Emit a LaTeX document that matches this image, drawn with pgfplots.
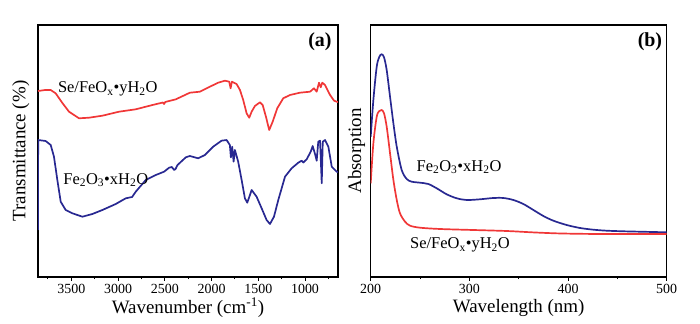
\documentclass[border=0pt]{standalone}
\usepackage{fontspec}
\setmainfont{Liberation Serif}
\usepackage{pgfplots}
\pgfplotsset{compat=1.18}
\definecolor{cred}{RGB}{240,55,55}
\definecolor{cblue}{RGB}{40,40,145}
\pgfplotsset{
  myax/.style={
    scale only axis, height=252bp, ymin=0, ymax=252,
    ytick=\empty, xtick pos=left, tick align=outside,
    major tick length=3.5bp, minor tick length=2bp,
    axis line style={line width=1.2pt}, every tick/.style={line width=1pt, black},
    /pgf/number format/assume math mode=true,
    /pgf/number format/set thousands separator={},
    tick label style={font=\fontsize{14}{16}\selectfont},
    label style={font=\fontsize{19}{22}\selectfont},
    xlabel style={at={(axis description cs:0.5,-0.122)}, anchor=center},
    clip=true,
  }
}
\begin{document}
\begin{tikzpicture}
\useasboundingbox (0,0) rectangle (700bp,324bp);
\begin{axis}[myax, at={(38bp,47bp)}, anchor=south west, width=300bp,
  x dir=reverse, xmin=647, xmax=3857,
  xtick={1000,1500,2000,2500,3000,3500},
  minor xtick={750,1250,1750,2250,2750,3250,3750},
  xlabel={Wavenumber (cm\textsuperscript{-1})},
  ylabel={Transmittance (\%)},
  ylabel style={at={(axis description cs:-0.057,0.5)}, anchor=center},
]
\addplot[cred, line width=1.7pt, line join=round] coordinates {
(3857,186) (3780,187) (3721,187) (3668,183.7) (3596,174) (3525,165.3) (3418,158.7)
(3311,159.3) (3168,161.3) (2990,165.3) (2811,167.7) (2632,172) (2520,174.5) (2508,173)
(2495,175) (2382,177.7) (2232,184.3) (2125,185.3) (2018,190.3) (1929,194.3) (1857,196.3)
(1811,195.3) (1796,188.7) (1782,195.3) (1732,193) (1696,187) (1661,177) (1625,163.7)
(1597,159.3) (1571,165.3) (1536,171) (1482,174.7) (1453,172) (1418,160.3) (1383,147)
(1346,155.3) (1297,168.7) (1233,178.7) (1161,182) (1054,184.3) (946,185.3) (904,188.7)
(875,185.3) (850,194.3) (832,189.7) (815,194.3) (786,192) (732,182) (689,176.3) (661,175.3) (647,175)
};
\addplot[cblue, line width=1.7pt, line join=round] coordinates {
(3857,47) (3855,137) (3775,136) (3721,132) (3686,120.3) (3650,97) (3614,75.3) (3561,67)
(3489,63.7) (3382,60.3) (3275,63) (3168,67) (3025,73) (2918,78.7) (2850,80) (2811,85.3)
(2704,97) (2596,102) (2508,105.3) (2454,109.3) (2425,110) (2400,107) (2385,108) (2364,112)
(2275,119.7) (2232,121) (2143,118.7) (2071,122) (1983,130.3) (1893,136.3) (1839,137)
(1804,132) (1793,119.7) (1779,130.3) (1764,115.3) (1750,127) (1715,115.3) (1678,97)
(1643,78.7) (1618,74.3) (1589,82) (1571,87) (1518,80.3) (1464,68.7) (1411,57) (1375,53)
(1332,60.3) (1286,77) (1214,100.3) (1143,108.7) (1072,114.3) (1036,116.3) (1018,114.5)
(982,117.7) (939,125.3) (918,131) (893,123) (875,116.3) (858,135.3) (839,136.3) (821,93.7)
(810,135.3) (786,137) (750,130.3) (714,110.3) (679,107) (661,105.3) (647,105)
};
\node[font=\fontsize{16.5}{19}\selectfont] at (axis cs:3110,188) {Se/FeO\textsubscript{x}•yH\textsubscript{2}O};
\node[font=\fontsize{16.5}{19}\selectfont] at (axis cs:3132,97) {Fe\textsubscript{2}O\textsubscript{3}•xH\textsubscript{2}O};
\node[font=\fontsize{20}{24}\selectfont\bfseries] at (axis cs:840,235) {(a)};
\end{axis}
\begin{axis}[myax, at={(370.7bp,47bp)}, anchor=south west, width=296bp,
  xmin=200, xmax=500,
  xtick={200,300,400,500}, minor xtick={250,350,450},
  xlabel={Wavelength (nm)},
  ylabel={Absorption},
  ylabel style={at={(axis description cs:-0.048,0.5)}, anchor=center},
]
\addplot[cblue, line width=1.7pt, smooth, tension=0.5] coordinates {
(200,140.3) (202.7,177) (206.1,210.3) (208.8,220.3) (211.1,222.7) (213.5,219.7) (216.2,207)
(219.6,180.3) (223,153.7) (226.4,130.3) (231.4,107) (236.5,98) (241.6,95.3) (250,94.3)
(258.4,93) (266.9,88.7) (277,82.7) (287.2,78.7) (297.3,77) (310.8,77.7) (324.3,79) (334.5,79)
(344.6,77) (354.7,73) (364.9,67) (375,61) (385.1,56.3) (398.6,52) (412.2,49) (425.7,47.3)
(439.2,46.3) (456.1,45.7) (473,45.3) (500,44.7)
};
\addplot[cred, line width=1.7pt, smooth, tension=0.5] coordinates {
(200,93.7) (202.7,133.7) (206.1,160.3) (208.8,166) (211.1,167) (213.5,163.7) (216.2,150.3)
(219.6,123.7) (223,97) (226.4,77) (229.7,63.7) (234.8,55.3) (239.9,51.3) (250,49.3)
(270.3,48) (304,47) (337.8,46) (364.9,44.6) (390,43.6) (420,43.1) (460,43) (500,43)
};
\node[font=\fontsize{16.5}{19}\selectfont] at (axis cs:289.5,110) {Fe\textsubscript{2}O\textsubscript{3}•xH\textsubscript{2}O};
\node[font=\fontsize{16.5}{19}\selectfont] at (axis cs:290.5,32) {Se/FeO\textsubscript{x}•yH\textsubscript{2}O};
\node[font=\fontsize{20}{24}\selectfont\bfseries] at (axis cs:483,235) {(b)};
\end{axis}
\end{tikzpicture}
\end{document}
